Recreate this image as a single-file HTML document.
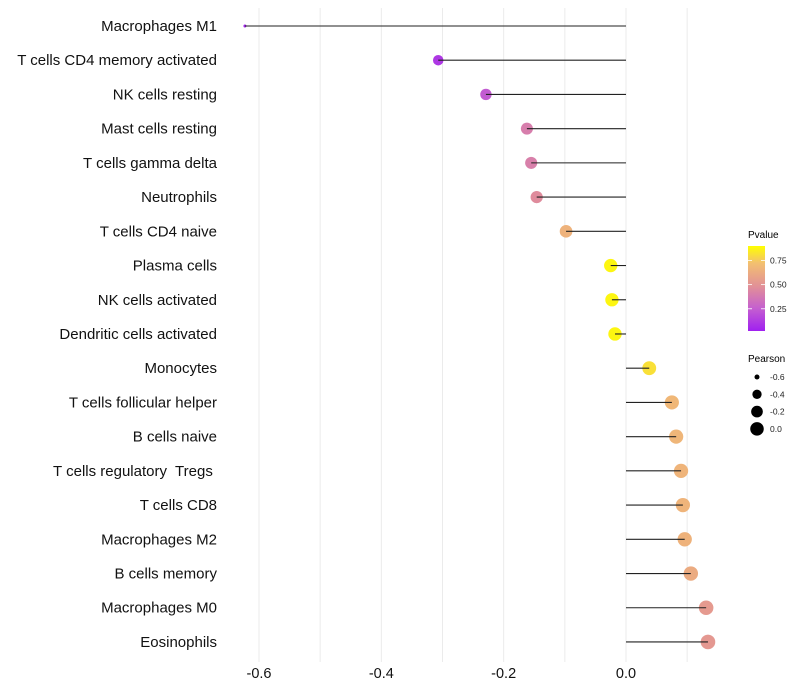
<!DOCTYPE html>
<html><head><meta charset="utf-8"><style>
body{margin:0;background:#fff;font-family:"Liberation Sans",sans-serif}
svg{display:block}
text{white-space:pre}
</style></head><body>
<svg id="chart" width="800" height="700">
<defs><linearGradient id="pg" x1="0" y1="1" x2="0" y2="0">
<stop offset="0" stop-color="#A020F0"/><stop offset="0.27" stop-color="#C560CF"/><stop offset="0.52" stop-color="#E18F98"/><stop offset="0.8" stop-color="#F3C070"/><stop offset="1" stop-color="#FFFF00"/></linearGradient></defs>
<g id="grid"></g><g id="marks"></g><g id="labels"></g>
<g>
<text x="748" y="238" font-size="10">Pvalue</text>
<rect x="748" y="246" width="17" height="85" fill="url(#pg)"/>
<g id="cticks"></g>
</g>
<g id="sizeleg">
<text x="748" y="362" font-size="10">Pearson</text>
</g>
</svg>
<script>
const categories=["Macrophages M1","T cells CD4 memory activated","NK cells resting","Mast cells resting","T cells gamma delta","Neutrophils","T cells CD4 naive","Plasma cells","NK cells activated","Dendritic cells activated","Monocytes","T cells follicular helper","B cells naive","T cells regulatory  Tregs ","T cells CD8","Macrophages M2","B cells memory","Macrophages M0","Eosinophils"];
const pearson=[-0.623,-0.307,-0.229,-0.162,-0.155,-0.146,-0.098,-0.025,-0.023,-0.018,0.038,0.075,0.082,0.090,0.093,0.096,0.106,0.131,0.134];
const pvalue=[0.02,0.1,0.25,0.43,0.44,0.5,0.72,0.97,0.97,0.97,0.9,0.75,0.74,0.73,0.73,0.72,0.68,0.58,0.57];
const xTicks=[-0.6,-0.4,-0.2,0.0];
const xTickLabels=["-0.6","-0.4","-0.2","0.0"];
const gridVals=[-0.6,-0.5,-0.4,-0.3,-0.2,-0.1,0.0,0.1];
const sizeLegend=[-0.6,-0.4,-0.2,0.0];
const colorLegend=[0.25,0.5,0.75];

const NS="http://www.w3.org/2000/svg";
const xs=v=>626+v*611.67;
const ys=i=>26+i*34.22;
const rs=v=>1.5+5.8*Math.sqrt(Math.max(0,(v+0.623)/0.757));
const stops=[[0,[160,32,240]],[0.27,[197,96,207]],[0.52,[225,143,152]],[0.8,[243,192,112]],[1,[255,255,0]]];
function col(p){for(let k=1;k<stops.length;k++){if(p<=stops[k][0]){const a=stops[k-1],b=stops[k],t=(p-a[0])/(b[0]-a[0]);return "rgb("+a[1].map((c,j)=>Math.round(c+(b[1][j]-c)*t)).join(",")+")";}}return "rgb(255,255,0)";}
function mk(tag,at,parent){const e=document.createElementNS(NS,tag);for(const k in at)e.setAttribute(k,at[k]);parent.appendChild(e);return e;}
const grid=document.getElementById('grid'),marks=document.getElementById('marks'),labels=document.getElementById('labels');
gridVals.forEach(v=>{const l=mk('line',{x1:xs(v),x2:xs(v),y1:8,y2:662,stroke:'#ebebeb','stroke-width':1},grid);

});
xTicks.forEach((v,i)=>{const t=mk('text',{x:xs(v),y:678,'font-size':14.5,'text-anchor':'middle',fill:'#111'},labels);t.textContent=xTickLabels[i];

});
categories.forEach((c,i)=>{
const y=ys(i),v=pearson[i];
const d=mk('circle',{cx:xs(v),cy:y,r:rs(v),fill:col(pvalue[i])},marks);


const s=mk('line',{x1:626,x2:xs(v),y1:y,y2:y,stroke:'#222','stroke-width':1.1},marks);


const t=mk('text',{x:217,y:y+5,'font-size':15,'text-anchor':'end',fill:'#111'},labels);t.textContent=c;

});
const ct=document.getElementById('cticks');
colorLegend.forEach(p=>{const y=331-(p-0.02)/0.88*85;
mk('line',{x1:748,x2:752,y1:y,y2:y,stroke:'#fff','stroke-width':0.8},ct);mk('line',{x1:761,x2:765,y1:y,y2:y,stroke:'#fff','stroke-width':0.8},ct);
const t=mk('text',{x:770,y:y+3,'font-size':8.5,fill:'#222'},ct);t.textContent=p.toFixed(2);

});
const sl=document.getElementById('sizeleg');
sizeLegend.forEach((v,i)=>{const y=377+i*17.3;
const c=mk('circle',{cx:757,cy:y,r:rs(v),fill:'#000'},sl);


const t=mk('text',{x:770,y:y+3,'font-size':8.5,fill:'#222'},sl);t.textContent=v.toFixed(1);

});
</script>
</body></html>
